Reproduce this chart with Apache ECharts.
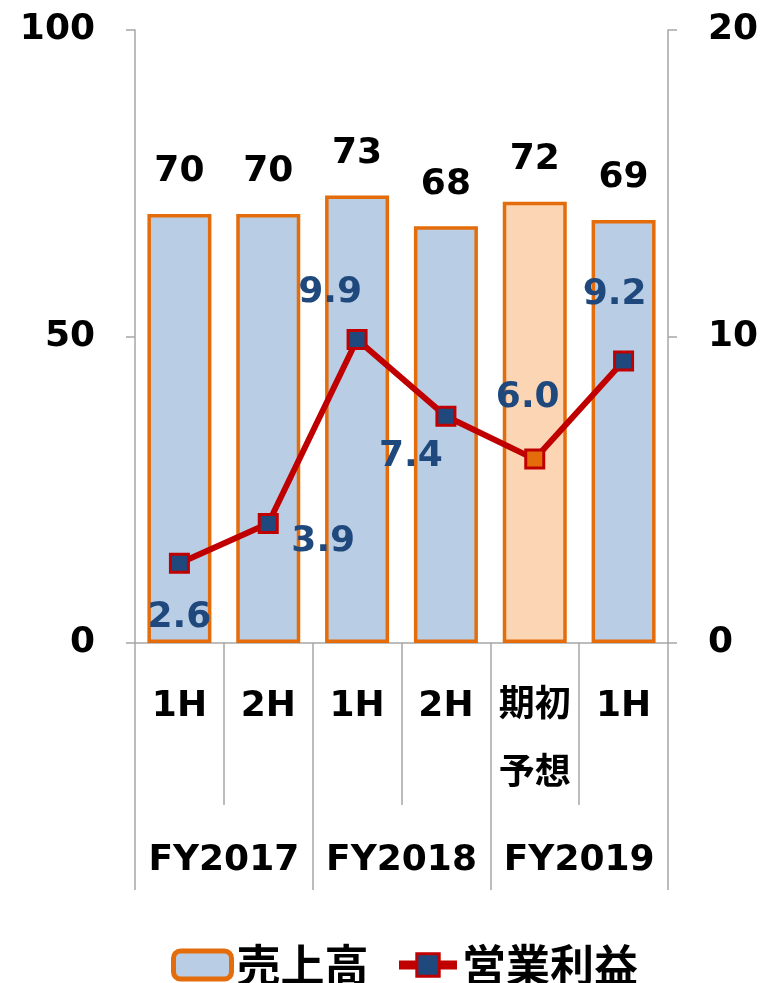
<!DOCTYPE html>
<html>
<head>
<meta charset="utf-8">
<script src="https://cdn.jsdelivr.net/npm/echarts@6/dist/echarts.min.js"></script>
<style>
html, body { margin: 0; padding: 0; background: #fff; }
#chart { width: 767px; height: 983px; }
</style>
</head>
<body>
<div id="chart"></div>
<script>
// data
var halves = ['1H', '2H', '1H', '2H', '期初\n予想', '1H'];
var years = ['FY2017', 'FY2018', 'FY2019'];
var sales = [70, 70, 73, 68, 72, 69];
var profit = [2.6, 3.9, 9.9, 7.4, 6.0, 9.2];
var forecastIndex = 4;
// where each profit label sits relative to its marker
var labelOffsets = [[0, 54], [55, 18], [-27, -47], [-35, 40], [-7, -61], [-9, -66]];

var font = '"DejaVu Sans", "Noto Sans CJK JP", sans-serif';
var jp = '"Noto Sans CJK JP", sans-serif';
var grey = '#a6a6a6';

var chart = echarts.init(document.getElementById('chart'));

var barData = sales.map(function (v, i) {
  if (i === forecastIndex) {
    return { value: v, itemStyle: { color: '#fcd5b5' } };
  }
  return v;
});

var lineData = profit.map(function (v, i) {
  var item = {
    value: v,
    label: { offset: labelOffsets[i] }
  };
  if (i === forecastIndex) {
    item.itemStyle = { color: '#e46c0a' };
  }
  return item;
});

chart.setOption({
  animation: false,
  textStyle: { fontFamily: font },
  grid: { left: 135, right: 99, top: 30, bottom: 340 },
  legend: {
    top: 938,
    left: 166,
    itemWidth: 58,
    itemHeight: 28,
    itemGap: 26,
    textStyle: { fontSize: 44, fontWeight: 'bold', color: '#000', fontFamily: jp },
    data: [
      { name: '売上高', itemStyle: { borderWidth: 5 } },
      { name: '営業利益', lineStyle: { width: 9 }, itemStyle: { borderWidth: 3 } }
    ]
  },
  xAxis: [
    {
      type: 'category',
      data: halves,
      position: 'bottom',
      axisLine: { show: true, lineStyle: { color: grey, width: 1.5 } },
      axisTick: { show: true, interval: 0, length: 162, lineStyle: { color: grey, width: 1.5 } },
      axisLabel: {
        interval: 0,
        margin: 30,
        color: '#000',
        fontSize: 36,
        fontWeight: 'bold',
        lineHeight: 68,
        verticalAlign: 'top'
      }
    },
    {
      type: 'category',
      data: years,
      position: 'bottom',
      axisLine: { show: false },
      axisTick: { show: true, interval: 0, length: 247, lineStyle: { color: grey, width: 1.5 } },
      axisLabel: {
        interval: 0,
        margin: 200,
        color: '#000',
        fontSize: 36,
        fontWeight: 'bold',
        verticalAlign: 'top'
      }
    }
  ],
  yAxis: [
    {
      type: 'value',
      min: 0, max: 100, interval: 50,
      splitLine: { show: false },
      axisLine: { show: true, lineStyle: { color: grey, width: 1.5 } },
      axisTick: { show: true, length: 9, lineStyle: { color: grey, width: 1.5 } },
      axisLabel: { color: '#000', fontSize: 36, fontWeight: 'bold', margin: 40 }
    },
    {
      type: 'value',
      min: 0, max: 20, interval: 10,
      splitLine: { show: false },
      axisLine: { show: true, lineStyle: { color: grey, width: 1.5 } },
      axisTick: { show: true, length: 9, lineStyle: { color: grey, width: 1.5 } },
      axisLabel: { color: '#000', fontSize: 36, fontWeight: 'bold', margin: 40 }
    }
  ],
  series: [
    {
      name: '売上高',
      type: 'bar',
      barWidth: 64,
      itemStyle: { color: '#b9cde5', borderColor: '#e46c0a', borderWidth: 3.5 },
      label: {
        show: true,
        position: 'top',
        distance: 24,
        color: '#000',
        fontSize: 36,
        fontWeight: 'bold'
      },
      data: barData
    },
    {
      name: '営業利益',
      type: 'line',
      yAxisIndex: 1,
      z: 5,
      symbol: 'rect',
      symbolSize: 18,
      lineStyle: { color: '#c00000', width: 6 },
      itemStyle: { color: '#1f497d', borderColor: '#c00000', borderWidth: 3 },
      label: {
        show: true,
        position: 'inside',
        color: '#1f497d',
        fontSize: 36,
        fontWeight: 'bold',
        formatter: function (p) { return p.value.toFixed(1); }
      },
      data: lineData
    }
  ]
});
</script>
</body>
</html>
